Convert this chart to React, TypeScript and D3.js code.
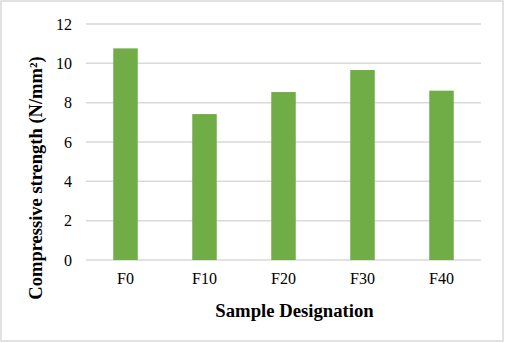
import React from "react";
import * as d3 from "d3";

const categories = ["F0", "F10", "F20", "F30", "F40"];
const values = [10.76, 7.42, 8.54, 9.66, 8.61];
const yTicks = [0, 2, 4, 6, 8, 10, 12];

const W = 505;
const H = 343;
const margin = { left: 86, right: 24, top: 24, bottom: 83 };

export default function App() {
  const x = d3
    .scaleBand<string>()
    .domain(categories)
    .range([margin.left, W - margin.right])
    .paddingInner(0.69)
    .paddingOuter(0.345);
  const y = d3.scaleLinear().domain([0, 12]).range([H - margin.bottom, margin.top]);
  const font = "'Liberation Serif', 'Times New Roman', serif";
  return (
    <svg
      width={W}
      height={H}
      style={{ position: "absolute", left: 0, top: 0, background: "#fff" }}
    >
      <rect x={1} y={1} width={W - 3} height={H - 3} fill="#fff" stroke="#d9d9d9" strokeWidth={1.5} />
      {yTicks.map((t) => (
        <g key={t}>
          <line
            x1={margin.left}
            x2={W - margin.right}
            y1={y(t)}
            y2={y(t)}
            stroke="#d9d9d9"
            strokeWidth={1.5}
          />
          <text
            x={72}
            y={y(t)}
            dy="0.35em"
            textAnchor="end"
            fontFamily={font}
            fontSize={16}
            fill="#000"
          >
            {t}
          </text>
        </g>
      ))}
      {categories.map((c, i) => (
        <rect
          key={c}
          x={x(c)}
          y={y(values[i])}
          width={x.bandwidth()}
          height={y(0) - y(values[i])}
          fill="#70AD47"
        />
      ))}
      {categories.map((c) => (
        <text
          key={c}
          x={(x(c) as number) + x.bandwidth() / 2}
          y={284}
          textAnchor="middle"
          fontFamily={font}
          fontSize={16}
          fill="#000"
        >
          {c}
        </text>
      ))}
      <text
        x={294.5}
        y={317}
        textAnchor="middle"
        fontFamily={font}
        fontSize={18.7}
        fontWeight="bold"
        fill="#000"
      >
        Sample Designation
      </text>
      <text
        transform={`translate(42,178) rotate(-90)`}
        textAnchor="middle"
        fontFamily={font}
        fontSize={18.5}
        fontWeight="bold"
        fill="#000"
      >
        Compressive strength (N/mm²)
      </text>
    </svg>
  );
}
